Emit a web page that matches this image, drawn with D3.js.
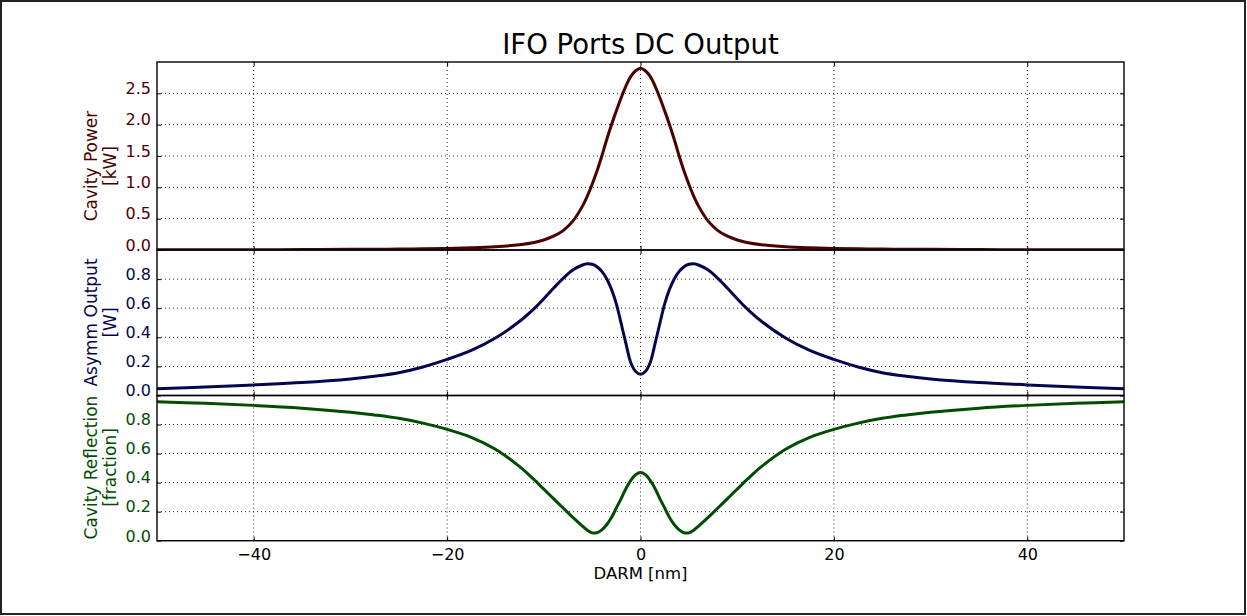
<!DOCTYPE html>
<html>
<head>
<meta charset="utf-8">
<script src="https://cdn.jsdelivr.net/npm/d3@7"></script>
<style>
  body { margin: 0; background: #fff; }
  svg { display: block; font-family: "DejaVu Sans", sans-serif; }
</style>
</head>
<body>
<svg id="chart" width="1247" height="616"></svg>
<script>
// DARM offset [nm]
var darm = [-50, -45, -40, -35, -30, -27.5, -25, -22.5, -20, -17.5, -15, -12.5, -11, -10, -9, -8, -7, -6, -5.5, -5, -4.5, -4,
    -3.5, -3, -2.5, -2, -1.5, -1, -0.5, 0, 0.5, 1, 1.5, 2, 2.5, 3, 3.5, 4, 4.5, 5, 5.5, 6, 7, 8, 9, 10, 11,
    12.5, 15, 17.5, 20, 22.5, 25, 27.5, 30, 35, 40, 45, 50]

// Cavity Power [kW]
var cavityPower = [0.003, 0.004, 0.005, 0.007, 0.010, 0.012, 0.015, 0.019, 0.025, 0.035, 0.052, 0.085, 0.12, 0.16, 0.22, 0.31, 0.46, 0.70, 0.86, 1.05, 1.26, 1.50,
    1.76, 2.00, 2.22, 2.43, 2.62, 2.77, 2.86, 2.90, 2.86, 2.77, 2.62, 2.43, 2.22, 2.00, 1.76, 1.50, 1.26, 1.05, 0.86, 0.70, 0.46, 0.31, 0.22, 0.16, 0.12,
    0.085, 0.052, 0.035, 0.025, 0.019, 0.015, 0.012, 0.010, 0.007, 0.005, 0.004, 0.003]

// Asymm Output [W]
var asymmOutput = [0.046, 0.058, 0.073, 0.089, 0.114, 0.133, 0.157, 0.196, 0.248, 0.31, 0.395, 0.51, 0.597, 0.665, 0.737, 0.805, 0.862, 0.897, 0.905, 0.902, 0.885, 0.853,
    0.803, 0.73, 0.63, 0.495, 0.355, 0.225, 0.165, 0.146, 0.165, 0.225, 0.355, 0.495, 0.63, 0.73, 0.803, 0.853, 0.885, 0.902, 0.905, 0.897, 0.862, 0.805, 0.737, 0.665, 0.597,
    0.51, 0.395, 0.31, 0.248, 0.196, 0.157, 0.133, 0.114, 0.089, 0.073, 0.058, 0.046]

// Cavity Reflection [fraction]
var cavityRefl = [0.957, 0.946, 0.932, 0.913, 0.885, 0.866, 0.843, 0.81, 0.767, 0.712, 0.63, 0.51, 0.42, 0.355, 0.29, 0.225, 0.16, 0.10, 0.072, 0.054, 0.055, 0.075,
    0.11, 0.16, 0.225, 0.29, 0.36, 0.415, 0.455, 0.47, 0.455, 0.415, 0.36, 0.29, 0.225, 0.16, 0.11, 0.075, 0.055, 0.054, 0.072, 0.10, 0.16, 0.225, 0.29, 0.355, 0.42,
    0.51, 0.63, 0.712, 0.767, 0.81, 0.843, 0.866, 0.885, 0.913, 0.932, 0.946, 0.957]

var xTicks = [-40, -20, 0, 20, 40]
var powerTicks = [0, 0.5, 1.0, 1.5, 2.0, 2.5]
var fracTicks = [0, 0.2, 0.4, 0.6, 0.8]

var svg = d3.select("#chart")

// outer figure border
svg.append("rect")
    .attr("x", 1).attr("y", 1)
    .attr("width", 1244).attr("height", 613)
    .attr("fill", "none")
    .attr("stroke", "#222")
    .attr("stroke-width", 2)

var left = 157, right = 1124

var x = d3.scaleLinear().domain([-50, 50]).range([left, right])

// one entry per stacked panel
var panels = [
    { top: 62, bottom: 250, domain: [0, 3], ticks: powerTicks, values: cavityPower, color: "#4d0000",
        label: ["Cavity Power", "[kW]"], labelY: 166, showX: false },
    { top: 250, bottom: 395.5, domain: [0, 1], ticks: fracTicks, values: asymmOutput, color: "#06064f",
        label: ["Asymm Output", "[W]"], labelY: 322.5, showX: false },
    { top: 395.5, bottom: 540.7, domain: [0, 1], ticks: fracTicks, values: cavityRefl, color: "#004d00",
        label: ["Cavity Reflection", "[fraction]"], labelY: 467.5, showX: true }
]

panels.forEach(function(p, i) {
    var y = d3.scaleLinear().domain(p.domain).range([p.bottom, p.top])
    var g = svg.append("g")

    // clip for the curve
    g.append("clipPath").attr("id", "clip" + i)
        .append("rect")
        .attr("x", left).attr("y", p.top)
        .attr("width", right - left).attr("height", p.bottom - p.top)

    // dotted grid
    g.selectAll(".vgrid").data(xTicks).enter().append("line")
        .attr("x1", d => x(d)).attr("x2", d => x(d))
        .attr("y1", p.top).attr("y2", p.bottom)
        .attr("stroke", "#222").attr("stroke-width", 1)
        .attr("stroke-dasharray", "1,3")
    g.selectAll(".hgrid").data(p.ticks).enter().append("line")
        .attr("x1", left).attr("x2", right)
        .attr("y1", d => y(d)).attr("y2", d => y(d))
        .attr("stroke", "#222").attr("stroke-width", 1)
        .attr("stroke-dasharray", "1,3")

    // the curve
    var line = d3.line()
        .x(function(d, k) { return x(darm[k]) })
        .y(function(d) { return y(d) })
        .curve(d3.curveCatmullRom.alpha(0.5))
    g.append("path")
        .datum(p.values)
        .attr("clip-path", "url(#clip" + i + ")")
        .attr("fill", "none")
        .attr("stroke", p.color)
        .attr("stroke-width", 3)
        .attr("d", line)

    // y axis left, inward ticks
    var yAxis = g.append("g")
        .attr("transform", "translate(" + left + ",0)")
        .call(d3.axisLeft(y).tickValues(p.ticks).tickFormat(d3.format(".1f")).tickSize(-4).tickPadding(6))
    yAxis.select(".domain").remove()
    yAxis.selectAll("text")
        .attr("dy", "0.02em")
        .attr("fill", p.color)
        .style("font-size", "16px")
        .style("font-family", "DejaVu Sans")
    yAxis.selectAll("line").attr("stroke", "#000")

    // y axis right ticks
    var yRight = g.append("g")
        .attr("transform", "translate(" + right + ",0)")
        .call(d3.axisRight(y).tickValues(p.ticks).tickFormat("").tickSize(-4))
    yRight.select(".domain").remove()

    // x ticks top and bottom of panel
    var xTop = g.append("g")
        .attr("transform", "translate(0," + p.top + ")")
        .call(d3.axisTop(x).tickValues(xTicks).tickFormat("").tickSize(-4))
    xTop.select(".domain").remove()

    var xBottom = g.append("g")
        .attr("transform", "translate(0," + p.bottom + ")")
        .call(d3.axisBottom(x).tickValues(xTicks).tickSize(-4).tickPadding(8)
            .tickFormat(p.showX ? d3.format("d") : ""))
    xBottom.select(".domain").remove()
    xBottom.selectAll("text")
        .attr("dy", "0.71em")
        .attr("fill", "#000")
        .style("font-size", "16px")
        .style("font-family", "DejaVu Sans")

    // frame
    g.append("rect")
        .attr("x", left).attr("y", p.top)
        .attr("width", right - left).attr("height", p.bottom - p.top)
        .attr("fill", "none")
        .attr("stroke", "#000")
        .attr("stroke-width", 1.4)

    // y label, two lines
    var lab = svg.append("text")
        .attr("transform", "translate(0," + p.labelY + ") rotate(-90)")
        .attr("text-anchor", "middle")
        .attr("fill", p.color)
        .style("font-size", "17px")
    lab.append("tspan").attr("x", 0).attr("y", 96.5).text(p.label[0])
    lab.append("tspan").attr("x", 0).attr("y", 115.5).text(p.label[1])
})

// title
svg.append("text")
    .attr("x", (left + right) / 2)
    .attr("y", 53.5)
    .attr("text-anchor", "middle")
    .style("font-size", "27.5px")
    .text("IFO Ports DC Output")

// x label
svg.append("text")
    .attr("x", (left + right) / 2)
    .attr("y", 579)
    .attr("text-anchor", "middle")
    .style("font-size", "16.5px")
    .text("DARM [nm]")
</script>
</body>
</html>
